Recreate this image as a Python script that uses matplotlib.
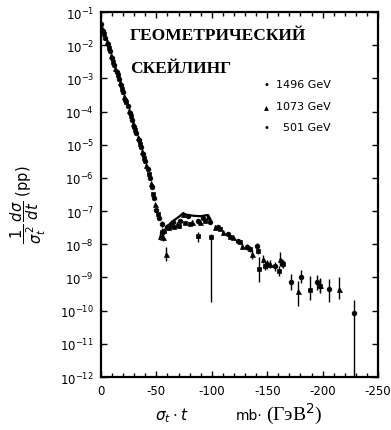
import numpy as np
import matplotlib
matplotlib.use("Agg")
import matplotlib.pyplot as plt
from matplotlib.ticker import FixedLocator, NullLocator, FuncFormatter

# ---------------- data ----------------
x_1496 = [0, -2, -4, -6, -8, -10, -12, -14, -16, -18, -20, -22, -24, -26, -28, -30,
          -32, -34, -36, -38, -40, -42, -44, -46, -48, -50,
          -52, -55, -59.6, -65, -71, -78.5, -87.5, -92, -98, -105.6, -114.6, -123.6,
          -131.8, -141, -150, -157, -163, -171.5, -180.5, -195, -206, -228]
y_1496 = [4.4e-2, 2.7e-2, 1.7e-2, 1.05e-2, 6.6e-3, 4.1e-3, 2.6e-3, 1.6e-3, 9.8e-4, 6.2e-4,
          3.8e-4, 2.3e-4, 1.5e-4, 9.1e-5, 5.7e-5, 3.5e-5, 2.2e-5, 1.4e-5, 8.5e-6, 5.2e-6,
          3.2e-6, 1.8e-6, 1.0e-6, 5.2e-7, 2.4e-7, 1.05e-7,
          6.3e-8, 4.1e-8, 3.3e-8, 4.7e-8, 5.0e-8, 7.1e-8, 5.0e-8, 6.3e-8, 4.7e-8, 3.3e-8,
          2.0e-8, 1.26e-8, 8.3e-9, 8.9e-9, 2.6e-9, 2.2e-9, 2.8e-9, 7.4e-10, 1.05e-9,
          7.4e-10, 4.6e-10, 8.5e-11]
# error bars, in decades (down, up)
dn_1496 = [0] * 26 + [0.05, 0.1, 0.08, 0.05, 0.05, 0.05, 0.05, 0.05, 0.05, 0.06, 0.06, 0.07,
                      0.08, 0.08, 0.15, 0.15, 0.12, 0.25, 0.2, 0.25, 0.4, 3.0]
up_1496 = [0] * 26 + [0.05, 0.1, 0.08, 0.05, 0.05, 0.05, 0.05, 0.05, 0.05, 0.06, 0.06, 0.07,
                      0.08, 0.08, 0.12, 0.12, 0.12, 0.22, 0.2, 0.2, 0.3, 0.4]

x_1073 = [-1, -5, -9, -13, -17, -21, -25, -29, -33, -37, -41, -45, -49,
          -53, -56, -58.7, -62, -68.6, -74, -82, -89, -96.5, -103, -110, -119, -127,
          -136, -146, -152.5, -161.5, -178, -197.6, -215]
y_1073 = [3.4e-2, 1.3e-2, 5.1e-3, 2.0e-3, 7.8e-4, 3.0e-4, 1.15e-4, 4.5e-5, 1.7e-5, 6.6e-6,
          2.4e-6, 7.2e-7, 1.6e-7,
          1.8e-8, 1.66e-8, 5.1e-9, 4.1e-8, 4.1e-8, 8.3e-8, 4.7e-8, 4.7e-8, 7.2e-8, 3.3e-8,
          2.3e-8, 1.66e-8, 8.9e-9, 5.1e-9, 3.6e-9, 2.6e-9, 3.6e-9, 4.0e-10, 6.0e-10, 4.6e-10]
dn_1073 = [0] * 13 + [0.12, 0.12, 0.22, 0.06, 0.06, 0.05, 0.05, 0.05, 0.05, 0.06, 0.06, 0.07,
                      0.08, 0.15, 0.12, 0.12, 0.2, 0.45, 0.25, 0.3]
up_1073 = [0] * 13 + [0.12, 0.12, 0.22, 0.06, 0.06, 0.05, 0.05, 0.05, 0.05, 0.06, 0.06, 0.07,
                      0.08, 0.12, 0.12, 0.12, 0.2, 0.3, 0.2, 0.35]

x_501 = [-3, -7, -11, -15, -19, -23, -27, -31, -35, -39, -43, -47, -51.5,
         -55, -57, -61, -66, -70, -76, -80, -87.5, -94, -99, -107, -116, -125.5,
         -134.5, -141.7, -142.6, -148, -160.6, -164, -188.6, -198]
y_501 = [2.1e-2, 8.3e-3, 3.2e-3, 1.26e-3, 4.8e-4, 1.9e-4, 7.2e-5, 2.8e-5, 1.07e-5, 4.1e-6,
         1.35e-6, 3.2e-7, 8.3e-8,
         2.3e-8, 2.5e-8, 3.2e-8, 3.3e-8, 3.5e-8, 4.5e-8, 4.0e-8, 1.8e-8, 5.2e-8, 1.66e-8,
         2.9e-8, 1.66e-8, 1.17e-8, 7.2e-9, 6.3e-9, 1.8e-9, 2.2e-9, 1.6e-9, 2.6e-9,
         4.3e-10, 5.6e-10]
dn_501 = [0] * 13 + [0.15, 0.08, 0.06, 0.06, 0.06, 0.05, 0.05, 0.18, 0.05, 1.95, 0.06, 0.06,
                     0.07, 0.08, 0.08, 0.38, 0.12, 0.15, 0.12, 0.3, 0.2]
up_501 = [0] * 13 + [0.12, 0.08, 0.06, 0.06, 0.06, 0.05, 0.05, 0.1, 0.05, 0.1, 0.06, 0.06,
                     0.07, 0.08, 0.08, 0.36, 0.12, 0.15, 0.12, 0.4, 0.2]

# smooth curve over the second maximum
curve_x = [-59, -63, -67, -71, -74, -78, -84, -90, -96, -99]
curve_y = [3.2e-8, 4.4e-8, 5.6e-8, 7.0e-8, 8.6e-8, 7.6e-8, 7.2e-8, 7.0e-8, 7.6e-8, 4.5e-8]

series_labels = ["1496 GeV", "1073 GeV", "  501 GeV"]
title_lines = ["ГЕОМЕТРИЧЕСКИЙ", "СКЕЙЛИНГ"]
x_ticks = [0, -50, -100, -150, -200, -250]
y_decades = [-12, -11, -10, -9, -8, -7, -6, -5, -4, -3, -2, -1]

# ---------------- figure ----------------
fig = plt.figure(figsize=(3.91, 4.31), dpi=100)
ax = fig.add_axes([101 / 391, 53 / 431, 277 / 391, 365 / 431])

def draw(x, y, dn, up, marker, ms):
    x = np.array(x, float)
    y = np.array(y, float)
    dn = np.array(dn, float)
    up = np.array(up, float)
    lo = y - y * 10.0 ** (-dn)
    hi = y * 10.0 ** up - y
    has = (dn > 0) | (up > 0)
    ax.errorbar(x[has], y[has], yerr=[lo[has], hi[has]], fmt='none', ecolor='black',
                elinewidth=1.0, capsize=0, zorder=2)
    ax.plot(x, y, linestyle='none', marker=marker, ms=ms, color='black',
            markeredgewidth=0.5, zorder=3)

draw(x_1496, y_1496, dn_1496, up_1496, 'o', 3.4)
draw(x_1073, y_1073, dn_1073, up_1073, '^', 3.6)
draw(x_501, y_501, dn_501, up_501, 's', 3.0)
ax.plot(curve_x, curve_y, color='black', lw=1.6, zorder=2)

ax.set_yscale('log')
ax.set_ylim(1e-12, 1e-1)
ax.set_xlim(0, -250)

ax.yaxis.set_major_locator(FixedLocator([10.0 ** d for d in y_decades]))
ax.yaxis.set_minor_locator(NullLocator())
ax.yaxis.set_major_formatter(FuncFormatter(lambda v, p: r'$10^{%d}$' % int(round(np.log10(v)))))
ax.xaxis.set_major_locator(FixedLocator(x_ticks))
ax.xaxis.set_minor_locator(FixedLocator(list(range(0, -251, -10))))
ax.xaxis.set_major_formatter(FuncFormatter(lambda v, p: '0' if v == 0 else '-%d' % abs(v)))

ax.tick_params(which='both', direction='in', top=True, right=True, labelsize=8.5,
               colors='black', width=1.0)
ax.tick_params(which='major', length=4)
ax.tick_params(which='minor', length=3)
ax.tick_params(axis='x', pad=5)
ax.tick_params(axis='y', pad=5)
for s in ax.spines.values():
    s.set_linewidth(1.6)

# title text in the plot
ax.text(0.105, 0.958, title_lines[0], transform=ax.transAxes, family='Liberation Serif',
        fontsize=12.5, fontweight='bold', va='top', ha='left')
ax.text(0.105, 0.868, title_lines[1], transform=ax.transAxes, family='Liberation Serif',
        fontsize=12.5, fontweight='bold', va='top', ha='left')

# legend (manual)
leg_markers = ['o', '^', 's']
leg_ys = [85, 107, 128]
for m, lab, py in zip(leg_markers, series_labels, leg_ys):
    yf = 1 - py / 431
    fig.text(266 / 391, yf, '•' if m != '^' else '▴', fontsize=7, ha='center', va='center')
    fig.text(276 / 391, yf, lab, fontsize=8, ha='left', va='center', family='DejaVu Sans')

# axis labels
fig.text(28 / 391, 1 - 205 / 431,
         r'$\dfrac{1}{\sigma_t^{\,2}}\,\dfrac{d\sigma}{dt}$ (pp)',
         rotation=90, fontsize=10.5, ha='center', va='center')
fig.text(155 / 391, 1 - 416 / 431, r'$\sigma_t \cdot t$', fontsize=11, ha='left', va='center')
fig.text(236 / 391, 1 - 416 / 431, 'mb·', fontsize=10, ha='left', va='center')
fig.text(266 / 391, 1 - 414 / 431, '(ГэВ$^2$)', fontsize=14, ha='left', va='center',
         family='Liberation Serif')

fig.savefig('out.png', dpi=100)
